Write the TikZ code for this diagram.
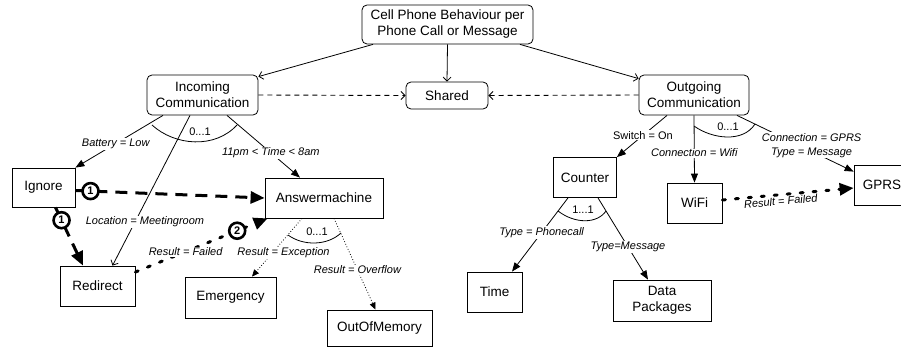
\documentclass[tikz,border=0pt]{standalone}
\usepackage{fontspec}
\setmainfont{Liberation Sans}
\usetikzlibrary{arrows.meta}

\begin{document}
\begin{tikzpicture}[x=1pt,y=-1pt,line width=0.8pt,
  font=\fontsize{13.5}{16}\selectfont,
  featbox/.style={draw,rounded corners=5pt,align=center,inner sep=0pt},
  leafbox/.style={draw,align=center,inner sep=0pt},
  cond/.style={font=\fontsize{11}{14}\selectfont\itshape,fill=white,inner sep=1pt,align=center},
  condfree/.style={font=\fontsize{11}{14}\selectfont\itshape,inner sep=1pt},
  plainlbl/.style={font=\fontsize{11}{14}\selectfont,fill=white,inner sep=1pt},
  card/.style={font=\fontsize{11}{13}\selectfont,inner sep=0pt},
  solidarr/.style={-{Triangle[length=9pt,width=7pt]}},
  openarr/.style={-{Straight Barb[length=4pt,width=8pt]}},
  shareline/.style={line width=0.9pt,dash pattern=on 5pt off 4pt,openarr},
  thindot/.style={dotted,-{Triangle[length=7pt,width=6pt]}},
  thickdash/.style={line width=3pt,dash pattern=on 12pt off 8pt,-{Triangle[length=14pt,width=12pt]}},
  thickdot/.style={line width=3pt,line cap=round,dash pattern=on 3pt off 10pt,-{Triangle[length=14pt,width=12pt]}},
  numcirc/.style={circle,draw,solid,line width=2.6pt,fill=white,inner sep=0pt,minimum size=16pt,font=\fontsize{11}{11}\selectfont\bfseries}]
  \useasboundingbox (0,0) rectangle (901,347);

  % 特征节点
  \node[featbox,minimum width=171pt,minimum height=39pt] (root) at (447.5,24.5) {Cell Phone Behaviour per\\Phone Call or Message};
  \node[featbox,minimum width=111pt,minimum height=40pt] (inc) at (202.5,95) {Incoming\\Communication};
  \node[featbox,minimum width=82pt,minimum height=27pt] (shared) at (447,95.5) {Shared};
  \node[featbox,minimum width=110pt,minimum height=40pt] (out) at (694,95) {Outgoing\\Communication};

  % 叶子节点
  \node[leafbox,minimum width=63pt,minimum height=39pt] (ignore) at (43.5,187.5) {Ignore};
  \node[leafbox,minimum width=118pt,minimum height=40pt] (ans) at (324,198) {Answermachine};
  \node[leafbox,minimum width=75pt,minimum height=40pt] (redirect) at (97.5,286) {Redirect};
  \node[leafbox,minimum width=91pt,minimum height=41pt] (emerg) at (230.5,297.5) {Emergency};
  \node[leafbox,minimum width=105pt,minimum height=36pt] (oom) at (379.5,328) {OutOfMemory};
  \node[leafbox,minimum width=63pt,minimum height=40pt] (counter) at (585,177.5) {Counter};
  \node[leafbox,minimum width=55pt,minimum height=40pt] (wifi) at (694.5,203) {WiFi};
  \node[leafbox,minimum width=56pt,minimum height=40pt] (gprs) at (882,185) {GPRS};
  \node[leafbox,minimum width=55pt,minimum height=40pt] (time) at (494.5,292) {Time};
  \node[leafbox,minimum width=98pt,minimum height=41pt] (data) at (662,300.5) {Data\\Packages};

  % 根节点连线
  \draw[openarr] ([xshift=-74.5pt]root.south) -- ([yshift=-2pt]inc.north east);
  \draw[openarr] (root.south) -- (shared.north);
  \draw[openarr] ([xshift=72.5pt]root.south) -- ([yshift=-4pt]out.north west);

  % 虚线共享
  \draw[shareline] (inc.east) -- (shared.west);
  \draw[shareline] (out.west) -- (shared.east);

  % Incoming 分支
  \draw[solidarr] ([xshift=-39.5pt]inc.south) -- (ignore.north east)
    node[cond,pos=0.54] (lbat) {Battery = Low};
  \draw[solidarr] ([xshift=24.5pt]inc.south) -- ([xshift=-24pt]ans.north)
    node[cond,pos=0.6] (ltime) {11pm < Time < 8am};
  \draw[openarr] ([xshift=-12.5pt]inc.south) -- ([xshift=15pt]redirect.north)
    node[cond,pos=0.71,xshift=10pt] (lloc) {Location = Meetingroom};
  \draw (152,125) .. controls (175,146) and (215,149) .. (237,125);
  \node[card] (card1) at (200,132) {0...1};

  % 粗虚线与编号
  \draw[thickdash] ([yshift=-3pt]ignore.east) -- (ans.west)
    node[numcirc,pos=0.08] (n1a) {1};
  \draw[thickdash] ([xshift=12pt]ignore.south) -- ([xshift=-14.5pt]redirect.north)
    node[numcirc,pos=0.22] (n1b) {1};
  \draw[thickdot] ([yshift=14pt]redirect.east) -- ([xshift=3pt]ans.south west)
    node[cond,pos=0.38] (lfail1) {Result = Failed}
    node[numcirc,pos=0.77] (n2) {2};

  % Answermachine 分支
  \draw[thindot] ([xshift=-22pt]ans.south) -- ([xshift=21.5pt]emerg.north)
    node[cond,pos=0.59,xshift=11pt] (lexc) {Result = Exception};
  \draw[thindot] ([xshift=10pt]ans.south) -- ([xshift=-4pt]oom.north)
    node[cond,pos=0.565] (lover) {Result = Overflow};
  \draw (288,235) .. controls (303,246) and (327,246) .. (341,233);
  \node[card] (card2) at (317,232) {0...1};

  % Outgoing 分支
  \draw[solidarr] ([xshift=-27pt]out.south) -- (counter.north east)
    node[plainlbl,pos=0.48] (lswitch) {Switch = On};
  \draw[solidarr] (out.south) -- (wifi.north)
    node[cond,pos=0.56] (lwifi) {Connection = Wifi};
  \draw[solidarr] ([xshift=43pt]out.south) -- ([yshift=-7pt]gprs.north west)
    node[cond,pos=0.64,yshift=6pt] (lgprs) {Connection = GPRS\\Type = Message};
  \draw (694,126) .. controls (712,139) and (743,143) .. (755,124);
  \node[card] (card3) at (728,127) {0...1};
  \draw[thickdot] ([yshift=3pt]wifi.east) -- ([yshift=-3pt]gprs.west)
    node[condfree,pos=0.44,sloped,below] (lfail2) {Result = Failed};

  % Counter 分支
  \draw[solidarr] ([xshift=-17pt]counter.south) -- ([xshift=17.5pt]time.north)
    node[cond,pos=0.47] (lphone) {Type = Phonecall};
  \draw[solidarr] ([xshift=13pt]counter.south) -- ([xshift=-14pt]data.north)
    node[cond,pos=0.6] (lmsg) {Type=Message};
  \draw (558,211) .. controls (575,224) and (597,224) .. (606,211);
  \node[card] (card4) at (583,210) {1...1};
\end{tikzpicture}
\end{document}
